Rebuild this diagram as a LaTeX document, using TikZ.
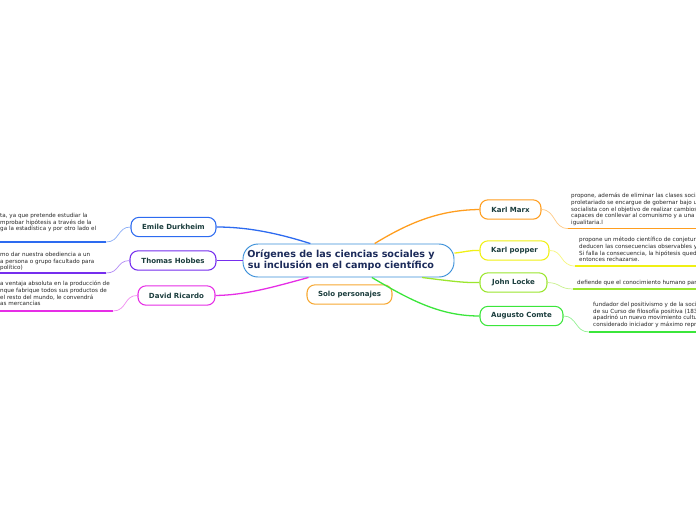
\documentclass[tikz,border=0pt]{standalone}
\usepackage{fontspec}
\setmainfont{DejaVu Sans}
\usetikzlibrary{positioning}
\definecolor{TitleBd}{RGB}{58,143,217}
\definecolor{TitleTx}{RGB}{28,43,90}
\definecolor{TopicTx}{RGB}{27,61,61}
\definecolor{NoteTx}{RGB}{40,40,40}
\definecolor{EmileC}{RGB}{45,107,240}
\definecolor{HobbesC}{RGB}{118,46,238}
\definecolor{RicardoC}{RGB}{230,46,230}
\definecolor{MarxC}{RGB}{255,158,31}
\definecolor{PopperC}{RGB}{240,240,20}
\definecolor{LockeC}{RGB}{155,230,46}
\definecolor{ComteC}{RGB}{59,230,59}
\definecolor{SoloC}{RGB}{247,168,50}
\tikzset{
  central/.style={rounded corners=4.5mm,draw=TitleBd,fill=white,line width=0.8pt,
                  minimum width=6.33cm,minimum height=9.9mm,inner sep=0pt,align=center,
                  font=\fontsize{8.2}{9.4}\selectfont\bfseries,text=TitleTx},
  topic/.style={rounded corners=2.4mm,draw,fill=white,line width=0.9pt,
                minimum height=5.8mm,inner sep=0pt,
                font=\fontsize{6}{7}\selectfont\bfseries,text=TopicTx},
  note/.style={anchor=north west,inner sep=0pt,align=left,
               font=\fontsize{4.8}{5.7}\selectfont,text=NoteTx},
  branch/.style={line width=1.1pt},
  uline/.style={line width=1.4pt},
  twig/.style={line width=0.6pt},
}
\newcommand{\padR}{\hspace*{4.5mm}}

\begin{document}
\begin{tikzpicture}[x=0.03cm,y=-0.03cm]
  \useasboundingbox[fill=white] (0,0) rectangle (696,520);

  \node[central] (title) at (348.5,260.5) {Orígenes de las ciencias sociales y\padR\\su inclusión en el campo científico\padR};
  \node[topic,draw=SoloC,minimum width=2.55cm] (solo) at (349.5,294.5) {Solo personajes};

  % left side
  \node[topic,draw=EmileC,minimum width=2.55cm] (emile) at (173.5,227) {Emile Durkheim};
  \node[topic,draw=HobbesC,minimum width=2.58cm] (hobbes) at (173,260.5) {Thomas Hobbes};
  \node[topic,draw=RicardoC,minimum width=2.31cm] (ricardo) at (176.5,295.5) {David Ricardo};

  % right side
  \node[topic,draw=MarxC,minimum width=1.83cm] (marx) at (510.5,209.5) {Karl Marx};
  \node[topic,draw=PopperC,minimum width=2.07cm] (popper) at (514.5,250.5) {Karl popper};
  \node[topic,draw=LockeC,minimum width=2.01cm] (locke) at (513.5,282.5) {John Locke};
  \node[topic,draw=ComteC,minimum width=2.49cm] (comte) at (521.5,316) {Augusto Comte};

  \draw[branch,EmileC] (title.156) .. controls (280,234) and (250,227) .. (emile.east);
  \draw[branch,HobbesC] (title.west) -- (hobbes.east);
  \draw[branch,RicardoC] (title.203) .. controls (270,288) and (245,295) .. (ricardo.east);
  \draw[branch,MarxC] (title.33) .. controls (410,222) and (440,210) .. (marx.west);
  \draw[branch,PopperC] (title.4) .. controls (465,252) and (470,250) .. (popper.west);
  \draw[branch,LockeC] (title.-13) .. controls (450,281) and (465,283) .. (locke.west);
  \draw[branch,ComteC] (title.-36) .. controls (410,300) and (440,316) .. (comte.west);

  % notes
  \node[note] (nEmile) at (0,213) {ta, ya que pretende estudiar la\\mprobar hipótesis a través de la\\ga la estadística y por otro lado el};
  \node[note] (nHobbes) at (0,252) {mo dar nuestra obediencia a un\\a persona o grupo facultado para\\político)};
  \node[note] (nRicardo) at (0,281) {a ventaja absoluta en la producción de\\nque fabrique todos sus productos de\\el resto del mundo, le convendrá\\as mercancías};
  \node[note] (nMarx) at (571,193) {propone, además de eliminar las clases socia\\proletariado se encargue de gobernar bajo u\\socialista con el objetivo de realizar cambios\\capaces de conllevar al comunismo y a una s\\igualitaria.l};
  \node[note] (nPopper) at (579,237) {propone un método científico de conjetura\\deducen las consecuencias observables y\\Si falla la consecuencia, la hipótesis queda\\entonces rechazarse.};
  \node[note] (nLocke) at (577,280) {defiende que el conocimiento humano part};
  \node[note] (nComte) at (593,302) {fundador del positivismo y de la socio\\de su Curso de filosofía positiva (183\\apadrinó un nuevo movimiento cultu\\considerado iniciador y máximo repre};

  \coordinate (eL) at (0,242);   \coordinate (eR) at (106,242);
  \coordinate (hL) at (0,273);   \coordinate (hR) at (106,273);
  \coordinate (rL) at (0,311);   \coordinate (rR) at (113,311);
  \coordinate (mL) at (568,228.5); \coordinate (mR) at (696,228.5);
  \coordinate (pL) at (575,266); \coordinate (pR) at (696,266);
  \coordinate (lL) at (573,289); \coordinate (lR) at (696,289);
  \coordinate (cL) at (589,332); \coordinate (cR) at (696,332);

  \draw[uline,EmileC] (eL) -- (eR);
  \draw[twig,EmileC!55] (eR) .. controls (120,242) and (117,227) .. (emile.west);
  \draw[uline,HobbesC] (hL) -- (hR);
  \draw[twig,HobbesC!55] (hR) .. controls (120,273) and (116,261) .. (hobbes.west);
  \draw[uline,RicardoC] (rL) -- (rR);
  \draw[twig,RicardoC!55] (rR) .. controls (127,311) and (124,295) .. (ricardo.west);
  \draw[uline,MarxC] (mL) -- (mR);
  \draw[twig,MarxC!55] (marx.east) .. controls (556,210) and (553,228.5) .. (mL);
  \draw[uline,PopperC] (pL) -- (pR);
  \draw[twig,PopperC!55] (popper.east) .. controls (563,250) and (560,266) .. (pL);
  \draw[uline,LockeC] (lL) -- (lR);
  \draw[twig,LockeC!55] (locke.east) .. controls (561,283) and (559,289) .. (lL);
  \draw[uline,ComteC] (cL) -- (cR);
  \draw[twig,ComteC!55] (comte.east) .. controls (577,316) and (575,332) .. (cL);
\end{tikzpicture}
\end{document}
